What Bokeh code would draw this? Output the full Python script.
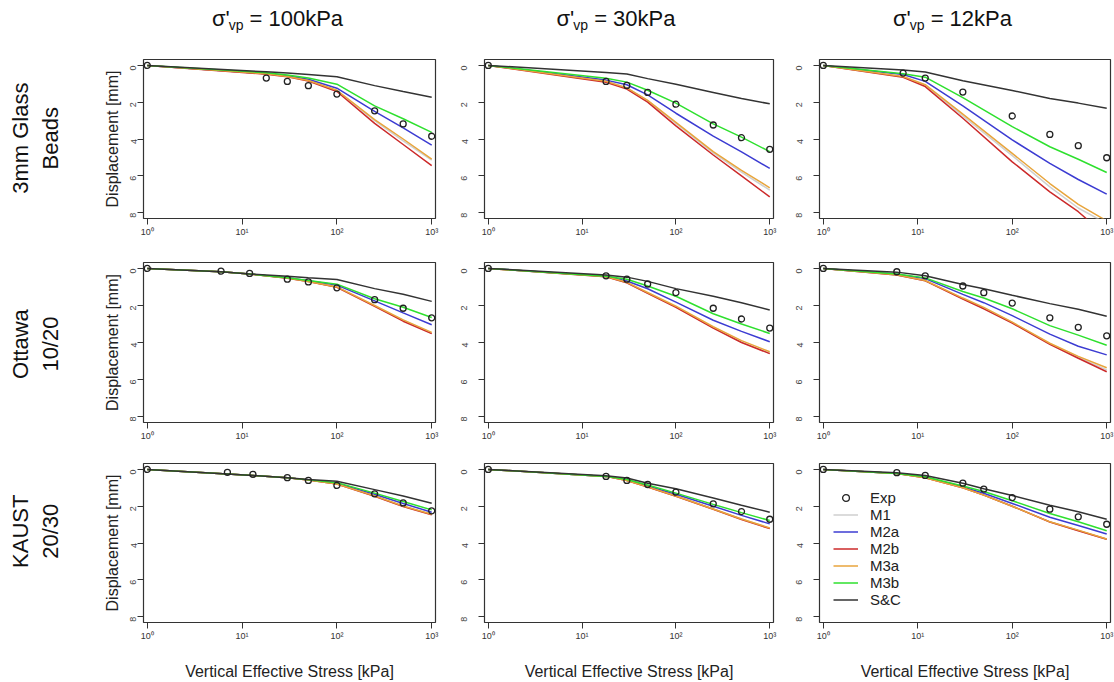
import math
from bokeh.plotting import figure
from bokeh.layouts import column, row
from bokeh.models import Range1d, FixedTicker, CustomJSTickFormatter, Legend, LegendItem
from bokeh.core.properties import value
from bokeh.embed import file_html
from bokeh.resources import INLINE

# ---------------- data ----------------
col_vp = ["100", "30", "12"]
row_labels = ["3mm Glass\nBeads", "Ottawa\n10/20", "KAUST\n20/30"]
model_names = ["M1", "M2a", "M2b", "M3a", "M3b", "S&C"]
model_colors = ["#cfcfcf", "#3c3cd2", "#cc2a2a", "#e8a53c", "#2ee02e", "#333333"]
x_ticks = [1, 10, 100, 1000]
y_ticks = [0, 2, 4, 6, 8]

# 3mm Glass Beads, sigma'vp = 100 kPa
GB100_stress = [1, 18, 30, 50, 100, 250, 500, 1000]
GB100_exp = [0, 0.69, 0.87, 1.10, 1.56, 2.47, 3.18, 3.85]
GB100_M1 = [0, 0.45, 0.58, 0.80, 1.38, 3.00, 4.10, 5.15]
GB100_M2a = [0, 0.45, 0.57, 0.75, 1.24, 2.50, 3.40, 4.33]
GB100_M2b = [0, 0.48, 0.62, 0.85, 1.42, 3.15, 4.30, 5.45]
GB100_M3a = [0, 0.46, 0.60, 0.82, 1.35, 2.95, 4.00, 5.09]
GB100_M3b = [0, 0.40, 0.52, 0.68, 1.02, 2.20, 2.90, 3.64]
GB100_SC = [0, 0.35, 0.42, 0.50, 0.62, 1.10, 1.42, 1.73]

# 3mm Glass Beads, 30 kPa
GB30_stress = [1, 18, 30, 50, 100, 250, 500, 1000]
GB30_exp = [0, 0.87, 1.09, 1.47, 2.11, 3.24, 3.93, 4.56]
GB30_M1 = [0, 0.88, 1.22, 1.92, 3.15, 4.75, 5.80, 6.78]
GB30_M2a = [0, 0.80, 1.05, 1.60, 2.60, 3.84, 4.70, 5.60]
GB30_M2b = [0, 0.92, 1.29, 2.00, 3.29, 4.87, 6.00, 7.15]
GB30_M3a = [0, 0.86, 1.22, 1.90, 3.10, 4.69, 5.70, 6.65]
GB30_M3b = [0, 0.70, 0.91, 1.35, 2.05, 3.18, 3.90, 4.69]
GB30_SC = [0, 0.38, 0.47, 0.72, 1.03, 1.47, 1.80, 2.09]

# 3mm Glass Beads, 12 kPa
GB12_stress = [1, 7, 12, 30, 100, 250, 500, 1000]
GB12_exp = [0, 0.42, 0.69, 1.45, 2.75, 3.75, 4.36, 5.02]
GB12_M1 = [0, 0.62, 1.08, 2.75, 4.90, 6.60, 7.75, 8.60]
GB12_M2a = [0, 0.50, 0.87, 2.20, 4.05, 5.32, 6.20, 7.00]
GB12_M2b = [0, 0.65, 1.15, 2.87, 5.24, 6.87, 7.95, 9.30]
GB12_M3a = [0, 0.60, 1.05, 2.65, 4.78, 6.42, 7.55, 8.45]
GB12_M3b = [0, 0.45, 0.64, 1.75, 3.33, 4.42, 5.10, 5.82]
GB12_SC = [0, 0.25, 0.36, 0.84, 1.36, 1.80, 2.05, 2.33]

# Ottawa 10/20, 100 kPa
OT100_stress = [1, 6, 12, 30, 50, 100, 250, 500, 1000]
OT100_exp = [0, 0.15, 0.27, 0.58, 0.73, 1.05, 1.69, 2.15, 2.67]
OT100_M1 = [0, 0.18, 0.30, 0.52, 0.70, 1.00, 2.02, 2.80, 3.50]
OT100_M2a = [0, 0.18, 0.30, 0.50, 0.66, 0.90, 1.75, 2.40, 3.04]
OT100_M2b = [0, 0.18, 0.30, 0.53, 0.71, 1.02, 2.05, 2.85, 3.52]
OT100_M3a = [0, 0.18, 0.30, 0.52, 0.70, 1.00, 2.00, 2.78, 3.45]
OT100_M3b = [0, 0.18, 0.30, 0.50, 0.65, 0.85, 1.64, 2.10, 2.65]
OT100_SC = [0, 0.18, 0.30, 0.42, 0.50, 0.60, 1.09, 1.40, 1.78]

# Ottawa 10/20, 30 kPa
OT30_stress = [1, 18, 30, 50, 100, 250, 500, 1000]
OT30_exp = [0, 0.40, 0.58, 0.84, 1.31, 2.15, 2.73, 3.22]
OT30_M1 = [0, 0.45, 0.78, 1.33, 2.08, 3.20, 3.98, 4.58]
OT30_M2a = [0, 0.42, 0.68, 1.10, 1.82, 2.80, 3.40, 3.96]
OT30_M2b = [0, 0.45, 0.78, 1.35, 2.10, 3.22, 4.00, 4.60]
OT30_M3a = [0, 0.44, 0.75, 1.30, 2.04, 3.15, 3.90, 4.50]
OT30_M3b = [0, 0.42, 0.58, 0.95, 1.50, 2.45, 3.00, 3.51]
OT30_SC = [0, 0.35, 0.47, 0.70, 1.09, 1.50, 1.85, 2.24]

# Ottawa 10/20, 12 kPa
OT12_stress = [1, 6, 12, 30, 50, 100, 250, 500, 1000]
OT12_exp = [0, 0.18, 0.40, 0.95, 1.31, 1.87, 2.67, 3.18, 3.64]
OT12_M1 = [0, 0.35, 0.66, 1.63, 2.15, 2.92, 4.07, 4.80, 5.48]
OT12_M2a = [0, 0.32, 0.55, 1.40, 1.85, 2.55, 3.55, 4.20, 4.67]
OT12_M2b = [0, 0.35, 0.67, 1.65, 2.18, 2.95, 4.10, 4.85, 5.58]
OT12_M3a = [0, 0.34, 0.65, 1.60, 2.10, 2.90, 4.04, 4.75, 5.36]
OT12_M3b = [0, 0.30, 0.51, 1.25, 1.60, 2.18, 3.09, 3.60, 4.15]
OT12_SC = [0, 0.20, 0.40, 0.87, 1.10, 1.45, 1.90, 2.20, 2.58]

# KAUST 20/30, 100 kPa
KA100_stress = [1, 7, 13, 30, 50, 100, 250, 500, 1000]
KA100_exp = [0, 0.16, 0.27, 0.45, 0.60, 0.87, 1.33, 1.82, 2.25]
KA100_M1 = [0, 0.25, 0.33, 0.45, 0.58, 0.80, 1.45, 2.00, 2.45]
KA100_M2a = [0, 0.25, 0.33, 0.45, 0.57, 0.75, 1.35, 1.85, 2.33]
KA100_M2b = [0, 0.25, 0.33, 0.45, 0.58, 0.80, 1.46, 2.02, 2.47]
KA100_M3a = [0, 0.25, 0.33, 0.45, 0.58, 0.79, 1.44, 1.99, 2.44]
KA100_M3b = [0, 0.25, 0.33, 0.45, 0.57, 0.72, 1.29, 1.75, 2.20]
KA100_SC = [0, 0.25, 0.33, 0.45, 0.55, 0.64, 1.10, 1.45, 1.84]

# KAUST 20/30, 30 kPa
KA30_stress = [1, 18, 30, 50, 100, 250, 500, 1000]
KA30_exp = [0, 0.38, 0.60, 0.82, 1.24, 1.87, 2.29, 2.71]
KA30_M1 = [0, 0.38, 0.60, 0.95, 1.45, 2.15, 2.70, 3.20]
KA30_M2a = [0, 0.38, 0.58, 0.90, 1.35, 2.00, 2.50, 2.96]
KA30_M2b = [0, 0.38, 0.60, 0.96, 1.46, 2.17, 2.72, 3.22]
KA30_M3a = [0, 0.38, 0.60, 0.95, 1.45, 2.15, 2.70, 3.18]
KA30_M3b = [0, 0.38, 0.55, 0.85, 1.29, 1.90, 2.35, 2.78]
KA30_SC = [0, 0.35, 0.47, 0.75, 1.05, 1.56, 1.95, 2.33]

# KAUST 20/30, 12 kPa
KA12_stress = [1, 6, 12, 30, 50, 100, 250, 500, 1000]
KA12_exp = [0, 0.18, 0.33, 0.75, 1.07, 1.53, 2.16, 2.58, 2.98]
KA12_M1 = [0, 0.22, 0.45, 1.00, 1.40, 2.00, 2.85, 3.32, 3.80]
KA12_M2a = [0, 0.22, 0.42, 0.95, 1.30, 1.85, 2.60, 3.05, 3.51]
KA12_M2b = [0, 0.22, 0.45, 1.00, 1.40, 2.00, 2.86, 3.33, 3.80]
KA12_M3a = [0, 0.22, 0.45, 1.00, 1.40, 2.00, 2.85, 3.30, 3.78]
KA12_M3b = [0, 0.22, 0.40, 0.90, 1.20, 1.70, 2.40, 2.85, 3.33]
KA12_SC = [0, 0.18, 0.33, 0.75, 1.05, 1.42, 1.95, 2.30, 2.71]

PANELS = [
    [(GB100_stress, GB100_exp, [GB100_M1, GB100_M2a, GB100_M2b, GB100_M3a, GB100_M3b, GB100_SC]),
     (GB30_stress, GB30_exp, [GB30_M1, GB30_M2a, GB30_M2b, GB30_M3a, GB30_M3b, GB30_SC]),
     (GB12_stress, GB12_exp, [GB12_M1, GB12_M2a, GB12_M2b, GB12_M3a, GB12_M3b, GB12_SC])],
    [(OT100_stress, OT100_exp, [OT100_M1, OT100_M2a, OT100_M2b, OT100_M3a, OT100_M3b, OT100_SC]),
     (OT30_stress, OT30_exp, [OT30_M1, OT30_M2a, OT30_M2b, OT30_M3a, OT30_M3b, OT30_SC]),
     (OT12_stress, OT12_exp, [OT12_M1, OT12_M2a, OT12_M2b, OT12_M3a, OT12_M3b, OT12_SC])],
    [(KA100_stress, KA100_exp, [KA100_M1, KA100_M2a, KA100_M2b, KA100_M3a, KA100_M3b, KA100_SC]),
     (KA30_stress, KA30_exp, [KA30_M1, KA30_M2a, KA30_M2b, KA30_M3a, KA30_M3b, KA30_SC]),
     (KA12_stress, KA12_exp, [KA12_M1, KA12_M2a, KA12_M2b, KA12_M3a, KA12_M3b, KA12_SC])],
]

# ---------------- layout ----------------
FONT = "Liberation Sans"
W, H = 1114, 682
LAB_W = 90
HEAD_H = 45
COL_W = [365, 335, 324]
BL = [53, 27, 28]
BR = [20, 17, 4]
ROW_H = [197, 204, 236]
BT = [14, 20, 17]
BB = [24, 24, 60]

sup_fmt = CustomJSTickFormatter(code="""
const s = ['\\u2070', '\\u00b9', '\\u00b2', '\\u00b3', '\\u2074'];
const e = Math.round(Math.log10(tick));
return '10' + s[e];
""")


def bare(width, height, xr, yr):
    f = figure(width=width, height=height, x_range=Range1d(*xr), y_range=Range1d(*yr),
               toolbar_location=None, output_backend="svg",
               x_axis_location=None, y_axis_location=None,
               min_border=0, min_border_left=0, min_border_right=0,
               min_border_top=0, min_border_bottom=0)
    f.xgrid.visible = False
    f.ygrid.visible = False
    f.outline_line_color = None
    f.background_fill_color = "white"
    f.border_fill_color = "white"
    return f


def make_panel(r, c):
    stress, exp, models = PANELS[r][c]
    p = figure(width=COL_W[c], height=ROW_H[r], x_axis_type="log",
               x_range=Range1d(10 ** -0.04, 10 ** 3.04), y_range=Range1d(8.32, -0.32),
               toolbar_location=None, output_backend="svg",
               min_border_left=BL[c], min_border_right=BR[c],
               min_border_top=BT[r], min_border_bottom=BB[r])
    p.xgrid.visible = False
    p.ygrid.visible = False
    p.outline_line_color = "#333333"
    p.outline_line_width = 1.2
    p.background_fill_color = "white"
    p.border_fill_color = "white"

    rends = []
    for name, col, ys in zip(model_names, model_colors, models):
        rends.append(p.line(stress, ys, line_color=col, line_width=1.5))
    pts = p.scatter(stress, exp, marker="circle", size=6, fill_color=None,
                    line_color="#222222", line_width=1.3)

    xa = p.xaxis[0]
    xa.ticker = FixedTicker(ticks=x_ticks, minor_ticks=[])
    xa.formatter = sup_fmt
    xa.axis_line_color = None
    xa.major_tick_in = 0
    xa.major_tick_out = 6
    xa.major_tick_line_color = "#333333"
    xa.major_label_standoff = 2
    xa.major_label_text_font = FONT
    xa.major_label_text_font_size = "9px"
    xa.major_label_text_color = "#333333"
    if r == 2:
        xa.axis_label = "Vertical Effective Stress [kPa]"
        xa.axis_label_text_font = FONT
        xa.axis_label_text_font_size = "16px"
        xa.axis_label_text_font_style = "normal"
        xa.axis_label_text_color = "#222222"
        xa.axis_label_standoff = 19

    ya = p.yaxis[0]
    ya.ticker = FixedTicker(ticks=y_ticks, minor_ticks=[])
    ya.axis_line_color = None
    ya.major_tick_in = 0
    ya.major_tick_out = 6
    ya.major_tick_line_color = "#333333"
    ya.major_label_orientation = math.pi / 2
    ya.major_label_text_font = FONT
    ya.major_label_text_font_size = "9px"
    ya.major_label_text_color = "#444444"
    if c == 0:
        ya.major_label_standoff = 4
        ya.axis_label = "Displacement [mm]"
        ya.axis_label_text_font = FONT
        ya.axis_label_text_font_size = "16px"
        ya.axis_label_text_font_style = "normal"
        ya.axis_label_text_color = "#222222"
        ya.axis_label_standoff = 4
    else:
        ya.major_label_standoff = 14

    if r == 2 and c == 2:
        items = [LegendItem(label="Exp", renderers=[pts])]
        for name, rd in zip(model_names, rends):
            items.append(LegendItem(label=name, renderers=[rd]))
        leg = Legend(items=items, location=(14, 14), border_line_color=None,
                     background_fill_alpha=0, label_text_font=FONT,
                     label_text_font_size="15px", label_text_color="#222222",
                     glyph_width=25, glyph_height=17, label_height=17,
                     spacing=0, padding=0, margin=0, label_standoff=12)
        p.add_layout(leg)
    return p


# header with column titles
header = bare(W, HEAD_H, (0, W), (0, HEAD_H))
frame_l = [LAB_W + BL[0], LAB_W + COL_W[0] + BL[1], LAB_W + COL_W[0] + COL_W[1] + BL[2]]
frame_r = [LAB_W + COL_W[0] - BR[0], LAB_W + COL_W[0] + COL_W[1] - BR[1], W - BR[2]]
for c in range(3):
    cx = (frame_l[c] + frame_r[c]) / 2 - 12
    num = col_vp[c]
    fs, ss = 22, 14
    w_sig = 0.76 * fs
    w_sub = 1.056 * ss
    w_sp = 0.278 * fs
    w_rest = (0.584 + 0.278 + 0.556 * len(num) + 0.5 + 0.667 + 0.556) * fs
    x0 = cx - (w_sig + w_sub + w_sp + w_rest) / 2
    yc = HEAD_H - 18
    header.text(x=[x0], y=[yc], text=["\u03c3'"], text_font=value(FONT),
                text_font_size=f"{fs}px", text_baseline="middle", text_align="left",
                text_color="#111111")
    header.text(x=[x0 + w_sig], y=[yc - 6], text=["vp"], text_font=value(FONT),
                text_font_size=f"{ss}px", text_baseline="middle", text_align="left",
                text_color="#111111")
    header.text(x=[x0 + w_sig + w_sub + w_sp], y=[yc], text=["= " + num + "kPa"],
                text_font=value(FONT), text_font_size=f"{fs}px", text_baseline="middle",
                text_align="left", text_color="#111111")

rows = [header]
for r in range(3):
    lab = bare(LAB_W, ROW_H[r], (0, LAB_W), (0, ROW_H[r]))
    frame_mid = ROW_H[r] - BT[r] - (ROW_H[r] - BT[r] - BB[r]) / 2 - 4
    lab.text(x=[35], y=[frame_mid], text=[row_labels[r]], angle=math.pi / 2,
             text_font=value(FONT), text_font_size="22px", text_align="center",
             text_baseline="middle", text_color="#111111", text_line_height=1.2)
    rows.append(row(lab, *[make_panel(r, c) for c in range(3)], spacing=0))

layout = column(*rows, spacing=0)

with open("out.html", "w", encoding="utf-8") as fh:
    fh.write(file_html(layout, INLINE))
